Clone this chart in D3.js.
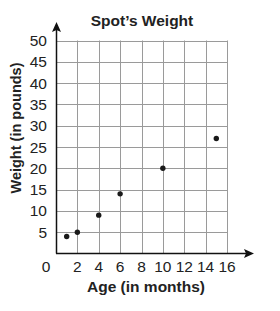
<!DOCTYPE html>
<html>
<head>
<meta charset="utf-8">
<script src="https://cdn.jsdelivr.net/npm/d3@7"></script>
<style>
  body { margin: 0; background: #fff; }
  text { font-family: "Liberation Sans", Arial, sans-serif; fill: #222; }
</style>
</head>
<body>
<svg id="chart" width="280" height="311"></svg>
<script>
// Spot's weight by age
let ages = [1, 2, 4, 6, 10, 15];
let weights = [4, 5, 9, 14, 20, 27];
let xTicks = [2, 4, 6, 8, 10, 12, 14, 16];
let yTicks = [5, 10, 15, 20, 25, 30, 35, 40, 45, 50];

let svg = d3.select("#chart");

let xr1 = 56, xr2 = 227;
let yr1 = 40.5, yr2 = 253.5;

let xScale = d3.scaleLinear().domain([0, 16]).range([xr1, xr2]);
let yScale = d3.scaleLinear().domain([0, 50]).range([yr2, yr1]);

// grid
let grid = svg.append("g").attr("stroke", "#9a9a9a").attr("stroke-width", 1);
grid.selectAll("line.v").data(xTicks).enter().append("line")
    .attr("x1", d => Math.round(xScale(d)) + 0.5).attr("x2", d => Math.round(xScale(d)) + 0.5)
    .attr("y1", yr1).attr("y2", yr2);
grid.selectAll("line.h").data(yTicks).enter().append("line")
    .attr("x1", xr1).attr("x2", xr2)
    .attr("y1", d => Math.round(yScale(d)) + 0.5).attr("y2", d => Math.round(yScale(d)) + 0.5);

// axes with arrows
svg.append("line").attr("x1", xr1 + 0.5).attr("x2", xr1 + 0.5)
    .attr("y1", yr2).attr("y2", 30).attr("stroke", "#111").attr("stroke-width", 1.5);
svg.append("path").attr("d", `M${xr1 + 0.5},22 L${xr1 - 4},32 L${xr1 + 0.5},30 L${xr1 + 5},32 Z`).attr("fill", "#111");
svg.append("line").attr("x1", xr1).attr("x2", 246)
    .attr("y1", yr2).attr("y2", yr2).attr("stroke", "#111").attr("stroke-width", 1.5);
svg.append("path").attr("d", `M254,${yr2} L244,${yr2 - 4.5} L246,${yr2} L244,${yr2 + 4.5} Z`).attr("fill", "#111");

// y tick labels
svg.append("g").selectAll("text").data(yTicks).enter().append("text")
    .attr("x", 47).attr("y", d => yScale(d) + 5.5)
    .attr("text-anchor", "end").style("font-size", "15.5px")
    .text(d => d);

// x tick labels
svg.append("g").selectAll("text").data(xTicks).enter().append("text")
    .attr("x", d => xScale(d)).attr("y", 272)
    .attr("text-anchor", "middle").style("font-size", "15.5px")
    .text(d => d);
svg.append("text").attr("x", 46).attr("y", 272)
    .attr("text-anchor", "middle").style("font-size", "15.5px").text("0");

// points
svg.append("g").selectAll("circle").data(ages).enter().append("circle")
    .attr("cx", d => xScale(d))
    .attr("cy", (d, i) => yScale(weights[i]))
    .attr("r", 2.7).attr("fill", "#1a1a1a");

// titles
svg.append("text").attr("x", 142).attr("y", 26)
    .attr("text-anchor", "middle").style("font-size", "15.5px").style("font-weight", "bold")
    .text("Spot’s Weight");
svg.append("text").attr("x", 146).attr("y", 292)
    .attr("text-anchor", "middle").style("font-size", "15.5px").style("font-weight", "bold")
    .text("Age (in months)");
svg.append("text").attr("transform", "translate(21,128) rotate(-90)")
    .attr("text-anchor", "middle").style("font-size", "14.5px").style("font-weight", "bold")
    .text("Weight (in pounds)");
</script>
</body>
</html>
